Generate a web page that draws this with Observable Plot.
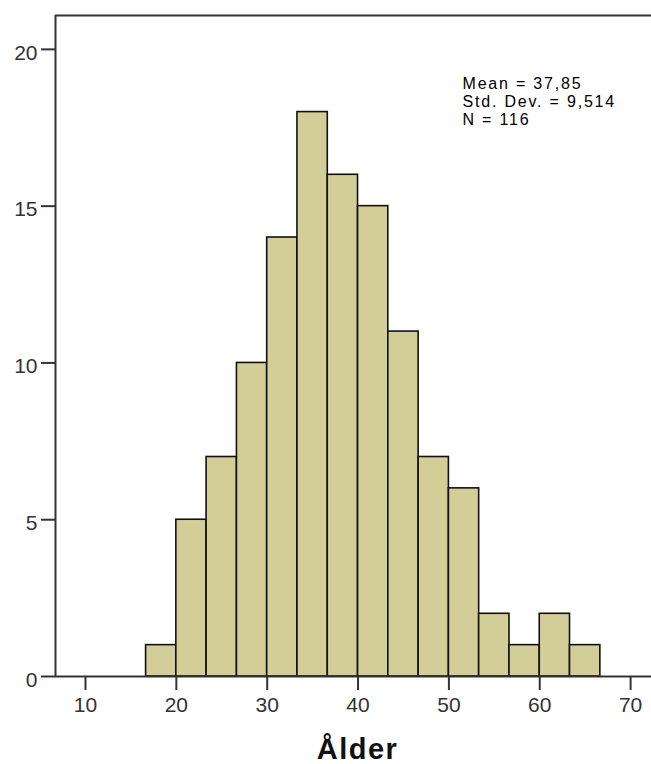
<!DOCTYPE html>
<html>
<head>
<meta charset="utf-8">
<script src="https://cdn.jsdelivr.net/npm/d3@7"></script>
<script src="https://cdn.jsdelivr.net/npm/@observablehq/plot@0.6"></script>
<style>
  html, body { margin: 0; background: #fff; overflow: hidden; }
</style>
</head>
<body>
<div id="chart"></div>
<script>
// Histogram of age (Ålder)
const binStarts = [16.67, 20, 23.33, 26.67, 30, 33.33, 36.67, 40, 43.33, 46.67, 50, 53.33, 56.67, 60, 63.33];
const binEnds   = [20, 23.33, 26.67, 30, 33.33, 36.67, 40, 43.33, 46.67, 50, 53.33, 56.67, 60, 63.33, 66.67];
const counts    = [1, 5, 7, 10, 14, 18, 16, 15, 11, 7, 6, 2, 1, 2, 1];
const xTicks = [10, 20, 30, 40, 50, 60, 70];
const yTicks = [0, 5, 10, 15, 20];
const statsLines = ["Mean = 37,85", "Std. Dev. = 9,514", "N = 116"];
const xTitle = "Ålder";

const xDomain = [6.7, 72.3];
const yDomain = [0, 21.08];

const bins = binStarts.map((s, i) => ({x1: s, x2: binEnds[i], count: counts[i]}));

const chart = Plot.plot({
  width: 651,
  height: 764,
  marginTop: 15,
  marginBottom: 88,
  marginLeft: 55,
  marginRight: 0,
  style: {fontFamily: "'Liberation Sans', Arial, sans-serif", fontSize: "21px", color: "#333", background: "#fff"},
  x: {domain: xDomain, ticks: xTicks, label: null},
  y: {domain: yDomain, ticks: yTicks, label: null},
  marks: [
    Plot.rectY(bins, {x1: "x1", x2: "x2", y: "count", fill: "#d3ce97", stroke: "#111", strokeWidth: 1.6}),
    Plot.axisX({ticks: xTicks, tickSize: 14, tickPadding: 7, stroke: "#333", strokeWidth: 2, fill: "#333", label: null}),
    Plot.axisY({ticks: yTicks, tickSize: 14, stroke: "#333", strokeWidth: 2, fill: "none", label: null}),
    Plot.axisY({ticks: yTicks, tickSize: 0, tickPadding: 18, dy: 3.5, fill: "#333", label: null}),
    Plot.ruleY([yDomain[0], yDomain[1]], {stroke: "#333", strokeWidth: 2}),
    Plot.ruleX([xDomain[0]], {stroke: "#333", strokeWidth: 2}),
    Plot.text([statsLines.join("\n")], {
      frameAnchor: "top-left", textAnchor: "start", lineAnchor: "top",
      dx: 407, dy: 61, lineHeight: 1.125, fontSize: 16, fill: "#000"
    }),
    Plot.text([xTitle], {
      frameAnchor: "bottom", dx: 4, dy: 73, lineAnchor: "middle",
      fontSize: 29, fontWeight: "bold", fill: "#111"
    })
  ]
});
d3.select(chart).selectAll("text")
  .filter(function() { return this.textContent.includes("Mean"); })
  .style("letter-spacing", "1.8px");
d3.select(chart).selectAll("text")
  .filter(function() { return this.textContent === xTitle; })
  .style("letter-spacing", "1.5px");
document.getElementById("chart").appendChild(chart);
</script>
</body>
</html>
